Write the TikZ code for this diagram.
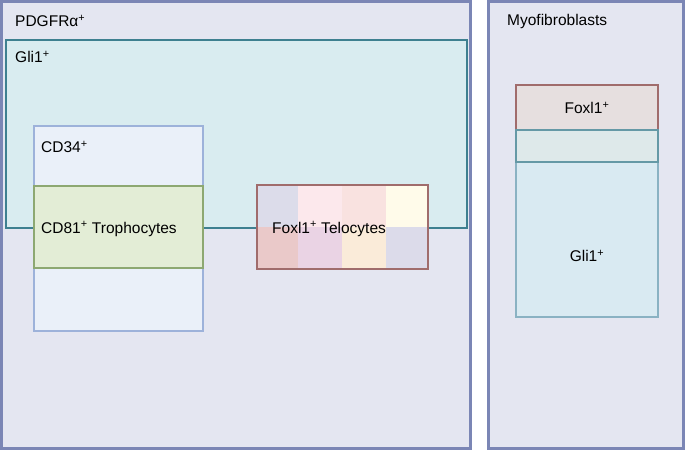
\documentclass[tikz,border=0pt]{standalone}
\usepackage{fontspec}
\setmainfont{Liberation Sans}
\begin{document}
\begin{tikzpicture}[x=1pt,y=-1pt,
  lbl/.style={font=\fontsize{15.5}{17}\selectfont, inner sep=0pt},
  outerbox/.style={draw=outline, line width=2.5pt, fill=outerfill},
]
\definecolor{outline}{HTML}{7B86B5}
\definecolor{outerfill}{HTML}{E4E6F1}
\definecolor{gliedge}{HTML}{3E8090}
\definecolor{glifill}{HTML}{D9ECF0}
\definecolor{cdedge}{HTML}{9DB2DA}
\definecolor{cdfill}{HTML}{EAF0F9}
\definecolor{troedge}{HTML}{8DA872}
\definecolor{trofill}{HTML}{E3EDD6}
\definecolor{teledge}{HTML}{A06C6C}
\definecolor{foxfill}{HTML}{E6DFDF}
\definecolor{rgliedge}{HTML}{8AB2C3}
\definecolor{rglifill}{HTML}{D9EAF2}
\definecolor{ovfill}{HTML}{DEE9EA}
\definecolor{pA}{HTML}{DCDCEA}
\definecolor{pB}{HTML}{FCE8EC}
\definecolor{pC}{HTML}{F9E2E0}
\definecolor{pD}{HTML}{FFFBEA}
\definecolor{pE}{HTML}{EAC9C9}
\definecolor{pF}{HTML}{EAD3E4}
\definecolor{pG}{HTML}{FAEBD9}
\definecolor{pH}{HTML}{DCDBEA}
\useasboundingbox (0,0) rectangle (685,450);
% outer boxes
\draw[outerbox] (1.5,1.5) rectangle (470.5,448.5);
\draw[outerbox] (488.5,1.5) rectangle (683.5,448.5);
\node[lbl, anchor=west] (pdg) at (15,21) {PDGFRα\textsuperscript{+}};
\node[lbl, anchor=west] (myo) at (507,21) {Myofibroblasts};
% Gli1 box
\draw[draw=gliedge, line width=1.5pt, fill=glifill] (6,40) rectangle (467,228);
\node[lbl, anchor=west] (gli) at (15,57) {Gli1\textsuperscript{+}};
% CD34 box
\draw[draw=cdedge, line width=1.2pt, fill=cdfill] (34,126) rectangle (203,331);
\node[lbl, anchor=west] (cd34) at (41,147) {CD34\textsuperscript{+}};
% CD81 box
\draw[draw=troedge, line width=1.2pt, fill=trofill] (34,186) rectangle (203,268);
\node[lbl, anchor=west] (cd81) at (41,229) {CD81\textsuperscript{+} Trophocytes};
% Telocytes patchwork
\fill[pA] (257,185) rectangle (298,227);
\fill[pB] (298,185) rectangle (342,227);
\fill[pC] (342,185) rectangle (386,227);
\fill[pD] (386,185) rectangle (428,227);
\fill[pE] (257,227) rectangle (298,269);
\fill[pF] (298,227) rectangle (342,269);
\fill[pG] (342,227) rectangle (386,269);
\fill[pH] (386,227) rectangle (428,269);
\draw[draw=teledge, line width=2pt] (257,185) rectangle (428,269);
\node[lbl, anchor=west] (telo) at (272,229) {Foxl1\textsuperscript{+} Telocytes};
% right boxes
\draw[draw=rgliedge, line width=1.5pt, fill=rglifill] (516,130) rectangle (658,317);
\fill[ovfill] (516,130) rectangle (658,162);
\draw[draw=black!25, line width=1pt] (516,162) -- (658,162);
\draw[draw=teledge, line width=1.5pt, fill=foxfill] (516,85) rectangle (658,130);
\draw[draw=gliedge!80, line width=1.5pt] (516,130) rectangle (658,162);
\node[lbl] (fox) at (587,108) {Foxl1\textsuperscript{+}};
\node[lbl] (rgli) at (587,256) {Gli1\textsuperscript{+}};
\end{tikzpicture}
\end{document}
